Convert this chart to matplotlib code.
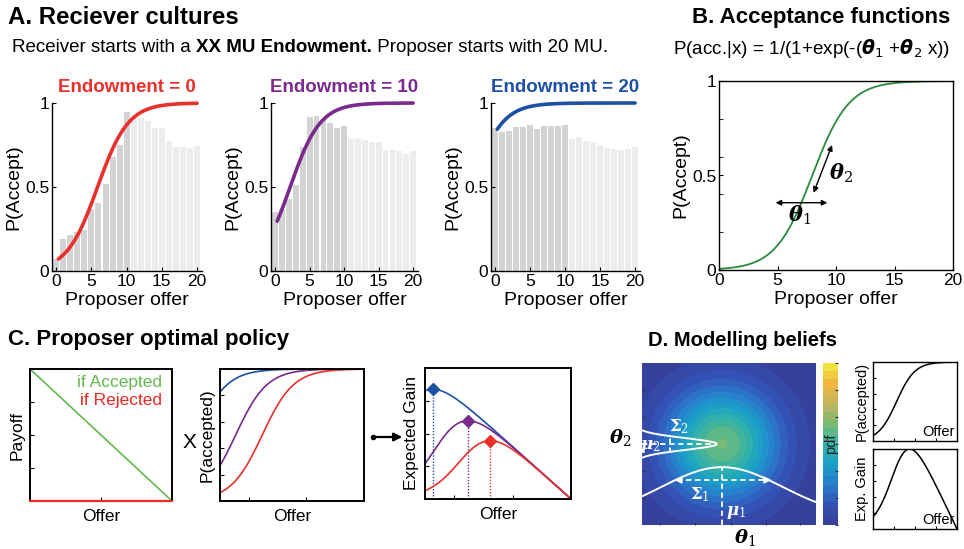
import numpy as np
import matplotlib
matplotlib.use("Agg")
import matplotlib.pyplot as plt
from matplotlib.colors import LinearSegmentedColormap

plt.rcParams['font.family'] = ['Liberation Sans', 'DejaVu Sans']
plt.rcParams['xtick.direction'] = 'in'
plt.rcParams['ytick.direction'] = 'in'
plt.rcParams['axes.linewidth'] = 1.0

# ---------------- data ----------------
offers = np.arange(21)
accept_endow0 = [0.07, 0.19, 0.215, 0.23, 0.243, 0.37, 0.405, 0.518, 0.68, 0.75, 0.946,
                 0.926, 0.91, 0.892, 0.853, 0.85, 0.773, 0.741, 0.739, 0.735, 0.745]
accept_endow10 = [0.35, 0.37, 0.43, 0.51, 0.74, 0.917, 0.923, 0.90, 0.88, 0.851, 0.863,
                  0.784, 0.794, 0.778, 0.766, 0.766, 0.722, 0.722, 0.714, 0.698, 0.714]
accept_endow20 = [0.851, 0.83, 0.833, 0.857, 0.857, 0.871, 0.847, 0.865, 0.865, 0.865, 0.871,
                  0.784, 0.80, 0.776, 0.766, 0.748, 0.73, 0.724, 0.718, 0.728, 0.736]
endowments = [0, 10, 20]
culture_theta1 = [-2.7, -1.0, 1.55]
culture_theta2 = [0.46, 0.46, 0.46]
example_theta = (-5.1, 0.64)
proposer_budget = 20

belief_mu = (0.46, 0.50)
belief_sigma = (0.225, 0.24)
belief_peak = 0.605
belief_curve = (-2.6, 9.25)

red, purple, blue = '#e9302b', '#7a2a8c', '#1d4fa5'
culture_colors = [red, purple, blue]

W, H = 964, 549
fig = plt.figure(figsize=(W / 100, H / 100), dpi=100)


def box(l, t, r, b):
    return [l / W, 1 - b / H, (r - l) / W, (b - t) / H]


def p_accept(x, t1, t2):
    return 1.0 / (1.0 + np.exp(-(t1 + t2 * x)))


# ---------------- A: receiver cultures ----------------
fig.text(8 / W, 1 - 18 / H, 'A. Reciever cultures', fontsize=17.3, fontweight='bold',
         ha='left', va='center')
t0 = fig.text(12 / W, 1 - 52 / H, 'Receiver starts with a ', fontsize=13.5, ha='left',
              va='baseline')
t1 = fig.text(0, 0, 'XX MU Endowment.', fontsize=13.5, fontweight='bold', ha='left',
              va='baseline')
t2 = fig.text(0, 0, ' Proposer starts with 20 MU.', fontsize=13.5, ha='left', va='baseline')
fig.canvas.draw()
r = fig.canvas.get_renderer()
bb = t0.get_window_extent(r)
t1.set_position((bb.x1 / W, t0.get_position()[1]))
bb = t1.get_window_extent(r)
t2.set_position((bb.x1 / W, t0.get_position()[1]))

acc_sets = [accept_endow0, accept_endow10, accept_endow20]
for i, (l, rr) in enumerate([(52, 202), (271, 418), (491, 640)]):
    ax = fig.add_axes(box(l, 103, rr, 271))
    bar_cols = ['#d3d3d3' if o <= 10 else '#ececec' for o in offers]
    ax.bar(offers, acc_sets[i], width=0.85, color=bar_cols, zorder=1)
    xs = np.linspace(0.3, 20, 200)
    ax.plot(xs, p_accept(xs, culture_theta1[i], culture_theta2[i]),
            color=culture_colors[i], lw=2.6, zorder=3, clip_on=False,
            solid_capstyle='round')
    ax.set_xlim(-0.6, 20.7)
    ax.set_ylim(0, 1)
    for s in ['top', 'right']:
        ax.spines[s].set_visible(False)
    ax.set_xticks([0, 5, 10, 15, 20])
    ax.set_yticks([0, 0.5, 1])
    ax.set_yticklabels(['0', '0.5', '1'])
    ax.tick_params(labelsize=12.5, length=3, pad=2)
    ax.set_xlabel('Proposer offer', fontsize=14, labelpad=2)
    ax.set_ylabel('P(Accept)', fontsize=14, labelpad=2)
    ax.text(0.5, 1.09, f'Endowment = {endowments[i]}', transform=ax.transAxes,
            ha='center', va='center', color=culture_colors[i], fontsize=13.5,
            fontweight='bold')

# ---------------- B: acceptance function ----------------
fig.text(692 / W, 1 - 18 / H, 'B. Acceptance functions', fontsize=16, fontweight='bold',
         ha='left', va='center')
fig.text(812 / W, 1 - 49 / H,
         r'P(acc.|x) = 1/(1+exp(-($\boldsymbol{\theta}_1$ +$\boldsymbol{\theta}_2$ x))',
         fontsize=13.6, ha='center', va='center')
axB = fig.add_axes(box(719, 81, 953, 270))
xs = np.linspace(0, 20, 400)
axB.plot(xs, p_accept(xs, *example_theta), color='#2a8a3c', lw=1.3)
axB.set_xlim(0, 20)
axB.set_ylim(0, 1)
axB.set_xticks([0, 5, 10, 15, 20])
axB.set_yticks([0, 0.5, 1])
axB.set_yticklabels(['0', '0.5', '1'])
axB.set_yticks([0.2, 0.4, 0.6, 0.8], minor=True)
axB.tick_params(labelsize=12.5, length=3, pad=2)
axB.tick_params(which='minor', length=3)
axB.set_xlabel('Proposer offer', fontsize=14, labelpad=2)
axB.set_ylabel('P(Accept)', fontsize=14, labelpad=2)
axB.annotate('', xy=(4.6, 0.356), xytext=(9.5, 0.356),
             arrowprops=dict(arrowstyle='<|-|>', lw=1.0, color='k', mutation_scale=8))
axB.annotate('', xy=(9.75, 0.675), xytext=(8.0, 0.395),
             arrowprops=dict(arrowstyle='<|-|>', lw=1.0, color='k', mutation_scale=8))
axB.text(6.9, 0.29, r'$\boldsymbol{\theta}_1$', fontsize=15, ha='center', va='center',
         math_fontfamily='dejavuserif')
axB.text(10.4, 0.51, r'$\boldsymbol{\theta}_2$', fontsize=15, ha='center', va='center',
         math_fontfamily='dejavuserif')

# ---------------- C: proposer optimal policy ----------------
fig.text(8 / W, 1 - 340 / H, 'C. Proposer optimal policy', fontsize=16, fontweight='bold',
         ha='left', va='center')
green_c, red_c = '#62b94e', '#eb2a22'
axC1 = fig.add_axes(box(30, 369, 172, 501))
offer_range = np.array([0, proposer_budget])
axC1.plot(offer_range, proposer_budget - offer_range, color=green_c, lw=1.2)
axC1.plot(offer_range, [0, 0], color=red_c, lw=1.6, clip_on=False, zorder=5)
axC1.set_xlim(0, proposer_budget)
axC1.set_ylim(0, proposer_budget)
axC1.set_xticks([10])
axC1.set_yticks([5, 10, 15])
axC1.tick_params(labelbottom=False, labelleft=False, length=3)
axC1.set_xlabel('Offer', fontsize=12.5, labelpad=6)
axC1.set_ylabel('Payoff', fontsize=12.5, labelpad=4)
axC1.text(0.93, 0.9, 'if Accepted', color=green_c, fontsize=12.5, ha='right', va='center',
          transform=axC1.transAxes)
axC1.text(0.93, 0.76, 'if Rejected', color=red_c, fontsize=12.5, ha='right', va='center',
          transform=axC1.transAxes)
for sp in axC1.spines.values():
    sp.set_linewidth(1.4)

fig.text(189 / W, 1 - 442 / H, 'X', fontsize=15, ha='center', va='center')

axC2 = fig.add_axes(box(220, 369, 364, 501))
xs = np.linspace(0, proposer_budget, 300)
for i in [2, 1, 0]:
    axC2.plot(xs, p_accept(xs, culture_theta1[i], culture_theta2[i]),
              color=culture_colors[i], lw=1.2)
axC2.set_xlim(0, proposer_budget)
axC2.set_ylim(0, 1)
axC2.set_xticks([4, 12])
axC2.set_yticks([0.2, 0.4, 0.6, 0.8])
axC2.tick_params(labelbottom=False, labelleft=False, length=3)
axC2.set_xlabel('Offer', fontsize=12.5, labelpad=6)
axC2.set_ylabel('P(accepted)', fontsize=12.5, labelpad=4)
for sp in axC2.spines.values():
    sp.set_linewidth(1.4)

fig.add_artist(plt.Line2D([373 / W], [1 - 437 / H], marker='o', markersize=3, color='k'))
fig.add_artist(matplotlib.patches.FancyArrowPatch(
    (373 / W, 1 - 437 / H), (405 / W, 1 - 437 / H), transform=fig.transFigure,
    arrowstyle='-|>', mutation_scale=12, lw=1.6, color='k'))

axC3 = fig.add_axes(box(425, 368, 571, 499))
for i in [2, 1, 0]:
    gain = p_accept(xs, culture_theta1[i], culture_theta2[i]) * (proposer_budget - xs)
    axC3.plot(xs, gain, color=culture_colors[i], lw=1.2)
    k = int(np.argmax(gain))
    axC3.plot([xs[k], xs[k]], [0, gain[k]], color=culture_colors[i], lw=1.0,
              linestyle=(0, (1, 1.2)))
    axC3.plot(xs[k], gain[k], marker='D', markersize=6, color=culture_colors[i], zorder=5)
axC3.set_xlim(0, proposer_budget)
axC3.set_ylim(0, proposer_budget)
axC3.set_xticks([4, 12])
axC3.set_yticks([5, 10, 15])
axC3.tick_params(labelbottom=False, labelleft=False, length=3)
axC3.set_xlabel('Offer', fontsize=12.5, labelpad=6)
axC3.set_ylabel('Expected Gain', fontsize=12.5, labelpad=4)
for sp in axC3.spines.values():
    sp.set_linewidth(1.4)

# ---------------- D: modelling beliefs ----------------
fig.text(648 / W, 1 - 340 / H, 'D. Modelling beliefs', fontsize=14.5, fontweight='bold',
         ha='left', va='center')
parula = LinearSegmentedColormap.from_list('parula', [
    (0.0, '#373c97'), (0.125, '#3451b6'), (0.25, '#2a7bcd'), (0.375, '#1aa0c8'),
    (0.5, '#35b3a6'), (0.625, '#78ba74'), (0.75, '#c2b65c'), (0.875, '#f3b640'),
    (1.0, '#efec3c')])

axD = fig.add_axes(box(642, 363, 816, 525))
g = np.linspace(0, 1, 400)
X, Y = np.meshgrid(g, g)
Z = belief_peak * np.exp(-((X - belief_mu[0]) ** 2 / (2 * belief_sigma[0] ** 2)
                           + (Y - belief_mu[1]) ** 2 / (2 * belief_sigma[1] ** 2)))
levels = np.linspace(0, 1, 21)
cs = axD.contourf(X, Y, Z, levels=levels, cmap=parula, vmin=0, vmax=1)
axD.set_xlim(0, 1)
axD.set_ylim(0, 1)
axD.set_xticks([0.105, 0.306, 0.51, 0.71, 0.91])
axD.set_yticks([1 / 6, 2 / 6, 3 / 6, 4 / 6, 5 / 6])
axD.tick_params(labelbottom=False, labelleft=False, length=2.5, color='#333333')
for sp in axD.spines.values():
    sp.set_visible(False)

# marginal over theta1 (horizontal bell)
u = np.linspace(0, 1, 200)
axD.plot(u, 0.05 + 0.307 * np.exp(-(u - belief_mu[0]) ** 2 / (2 * 0.49 ** 2 / 2)),
         color='white', lw=1.4)
# marginal over theta2 (sharp bell pointing right)
v = np.linspace(0.38, 0.62, 200)
axD.plot(-0.03 + 0.46 * np.exp(-(v - belief_mu[1]) ** 2 / (2 * 0.0366 ** 2)), v,
         color='white', lw=1.4, clip_on=True)
dash = dict(color='white', lw=1.3, linestyle=(0, (3, 2)))
axD.plot([belief_mu[0], belief_mu[0]], [0, 0.357], **dash)
axD.plot([0.2, 0.73], [0.278, 0.278], **dash)
for a, b in [(0.17, 0.23), (0.76, 0.70)]:
    axD.annotate('', xy=(a, 0.278), xytext=(b, 0.278),
                 arrowprops=dict(arrowstyle='-|>', color='white', lw=1.2, mutation_scale=10))
axD.plot([0.0, 0.40], [0.5, 0.5], **dash)
axD.plot([0.163, 0.163], [0.447, 0.542], **dash)
lbl = dict(color='white', fontsize=12, ha='center', va='center',
           math_fontfamily='dejavuserif')
axD.text(0.33, 0.19, r'$\boldsymbol{\Sigma}_1$', **lbl)
axD.text(0.54, 0.075, r'$\boldsymbol{\mu}_1$', **lbl)
axD.text(0.21, 0.61, r'$\boldsymbol{\Sigma}_2$', **lbl)
axD.text(0.05, 0.485, r'$\boldsymbol{\mu}_2$', **lbl)

fig.text(620 / W, 1 - 438 / H, r'$\boldsymbol{\theta}_2$', fontsize=14, ha='center',
         va='center', math_fontfamily='dejavuserif')
fig.text(745 / W, 1 - 538 / H, r'$\boldsymbol{\theta}_1$', fontsize=14, ha='center',
         va='center', math_fontfamily='dejavuserif')

cax = fig.add_axes(box(823, 363, 838, 525))
cb = fig.colorbar(cs, cax=cax)
cb.outline.set_visible(False)
cb.set_ticks(np.linspace(0, 1, 7))
cax.tick_params(labelright=False, length=2, direction='in', color='#333333')
cax.text(0.55, 0.5, 'pdf', rotation=90, ha='center', va='center', fontsize=10.5,
         color='#222222', transform=cax.transAxes)

uu = np.linspace(0, 1, 300)
p_belief = 1.0 / (1.0 + np.exp(-(belief_curve[0] + belief_curve[1] * uu)))
axDp = fig.add_axes(box(873, 362, 957, 441))
axDp.plot(uu, p_belief, color='k', lw=1.1)
axDp.set_xlim(0, 1)
axDp.set_ylim(0, 1)
axDp.set_xticks([0.25, 0.5, 0.75])
axDp.set_yticks([0.2, 0.4, 0.6, 0.8])
axDp.tick_params(labelbottom=False, labelleft=False, length=2)
axDp.set_ylabel('P(accepted)', fontsize=10.5, labelpad=3)
axDp.text(0.97, 0.03, 'Offer', fontsize=10.5, ha='right', va='bottom',
          transform=axDp.transAxes)

gain_belief = p_belief * (1 - uu)
axDg = fig.add_axes(box(873, 449, 957, 529))
axDg.plot(uu, gain_belief, color='k', lw=1.1)
axDg.set_xlim(0, 1)
axDg.set_ylim(0, gain_belief.max())
axDg.set_xticks([0.25, 0.5, 0.75])
axDg.set_yticks(np.array([0.2, 0.4, 0.6, 0.8]) * gain_belief.max())
axDg.tick_params(labelbottom=False, labelleft=False, length=2)
axDg.set_ylabel('Exp. Gain', fontsize=10.5, labelpad=3)
axDg.text(0.97, 0.03, 'Offer', fontsize=10.5, ha='right', va='bottom',
          transform=axDg.transAxes)

fig.savefig('out.png', dpi=100)
